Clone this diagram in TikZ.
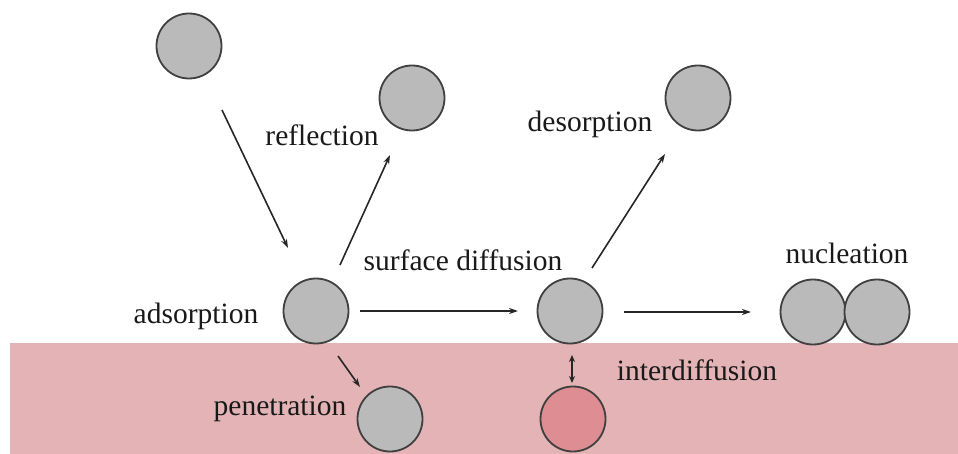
\documentclass[tikz,border=0pt]{standalone}
\usepackage{fontspec}
\setmainfont{Liberation Serif}
\usetikzlibrary{arrows.meta}
\begin{document}
\begin{tikzpicture}[x=1pt,y=-1pt,
  atom/.style={circle,draw=black!75,line width=1.8pt,fill=black!27,minimum size=65pt,inner sep=0pt},
  redatom/.style={atom,fill={rgb,255:red,222;green,142;blue,146}},
  lbl/.style={font=\fontsize{29.5}{33}\selectfont,text=black!90,inner sep=0pt},
  arr/.style={-{Stealth[length=9pt,width=6pt]},line width=1.6pt,black!85}]
\useasboundingbox (0,0) rectangle (958,454);
\fill[fill={rgb,255:red,227;green,179;blue,181}] (10,343) rectangle (958,454);
% atoms
\node[atom] (top) at (189,46) {};
\node[atom] (refl) at (412,98) {};
\node[atom] (des) at (698,98) {};
\node[atom] (ads) at (316,311) {};
\node[atom] (sd) at (570,311) {};
\node[atom] (nuc1) at (813,312) {};
\node[atom] (nuc2) at (877,312) {};
\node[atom] (pen) at (390,419) {};
\node[redatom] (inter) at (573,419) {};
% labels
\node[lbl] (lrefl) at (322,135) {reflection};
\node[lbl] (ldes) at (590,124) {desorption};
\node[lbl] (lsd) at (463,260) {surface diffusion};
\node[lbl] (lnuc) at (847,253) {nucleation};
\node[lbl] (lads) at (196,316) {adsorption};
\node[lbl] (lpen) at (280,409) {penetration};
\node[lbl] (lint) at (697,370) {interdiffusion};
% connector endpoints
\coordinate (a1) at (222,110); \coordinate (a2) at (288,248);
\coordinate (b1) at (340,265); \coordinate (b2) at (390,155);
\coordinate (c1) at (592,268); \coordinate (c2) at (665,154);
\coordinate (d1) at (360,311); \coordinate (d2) at (518,311);
\coordinate (e1) at (624,312); \coordinate (e2) at (751,312);
\coordinate (f1) at (338,356); \coordinate (f2) at (360,387);
\coordinate (g1) at (572,355); \coordinate (g2) at (572,383);
\draw[arr] (a1) -- (a2);
\draw[arr] (b1) -- (b2);
\draw[arr] (c1) -- (c2);
\draw[arr] (d1) -- (d2);
\draw[arr] (e1) -- (e2);
\draw[arr] (f1) -- (f2);
\draw[arr,{Stealth[length=7pt,width=6pt]}-{Stealth[length=7pt,width=6pt]}] (g1) -- (g2);
\end{tikzpicture}
\end{document}
